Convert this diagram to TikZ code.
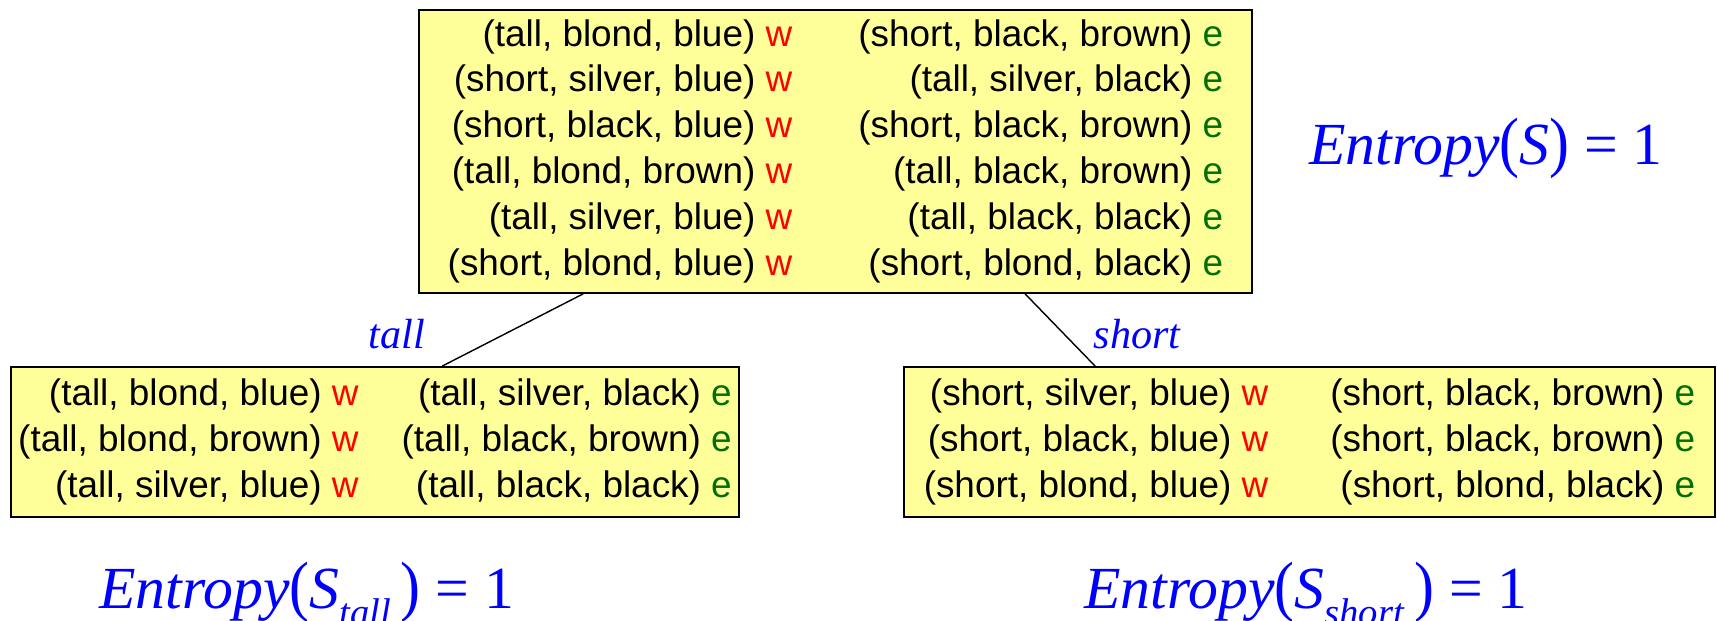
\documentclass[tikz,border=0pt]{standalone}
\usepackage{fontspec}
\setmainfont{Liberation Sans}
\newfontfamily\serif{Liberation Serif}
\usepackage{xcolor}
\usepackage{graphicx}
\usetikzlibrary{positioning}

\definecolor{boxyellow}{RGB}{255,255,153}
\definecolor{wred}{RGB}{255,0,0}
\definecolor{egreen}{RGB}{0,110,0}
\newcommand{\wlab}{\textcolor{wred}{w}}
\newcommand{\elab}{\textcolor{egreen}{e}}
\newcommand{\subent}[1]{\raisebox{-0.34cm}{\fontsize{22}{22}\selectfont\textit{#1}}\,}
\newcommand{\lpar}{\scalebox{1}[1.12]{(}}
\newcommand{\rpar}{\scalebox{1}[1.12]{)}}

\begin{document}
\begin{tikzpicture}[x=0.02cm,y=-0.02cm,
  box/.style={draw,line width=1pt,fill=boxyellow,inner sep=0pt,font=\fontsize{21}{26.1}\selectfont},
  branch/.style={text=blue,font=\serif\itshape\fontsize{24}{24}\selectfont},
  ent/.style={text=blue,anchor=base west,inner sep=0pt,font=\serif\fontsize{34}{34}\selectfont}]
\useasboundingbox (0,0) rectangle (1717,620);

% the whole set S
\node[box,minimum width=16.66cm,minimum height=5.66cm] (root) at (835.5,151.5) {%
\begin{tabular}{@{}r@{\hspace{1.32cm}}r@{}}
(tall, blond, blue) \wlab & (short, black, brown) \elab\\
(short, silver, blue) \wlab & (tall, silver, black) \elab\\
(short, black, blue) \wlab & (short, black, brown) \elab\\
(tall, blond, brown) \wlab & (tall, black, brown) \elab\\
(tall, silver, blue) \wlab & (tall, black, black) \elab\\
(short, blond, blue) \wlab & (short, blond, black) \elab
\end{tabular}};

% split on height
\node[box,minimum width=14.56cm,minimum height=3cm] (tall) at (375,442) {%
\begin{tabular}{@{}r@{\hspace{0.86cm}}r@{}}
(tall, blond, blue) \wlab & (tall, silver, black) \elab\\
(tall, blond, brown) \wlab & (tall, black, brown) \elab\\
(tall, silver, blue) \wlab & (tall, black, black) \elab
\end{tabular}};
\node[box,minimum width=16.22cm,minimum height=3cm] (short) at (1309.5,442) {%
\begin{tabular}{@{}r@{\hspace{1.24cm}}r@{}}
(short, silver, blue) \wlab & (short, black, brown) \elab\\
(short, black, blue) \wlab & (short, black, brown) \elab\\
(short, blond, blue) \wlab & (short, blond, black) \elab
\end{tabular}};

\draw[line width=0.8pt] ([xshift=3.3cm]root.south west) -- ([xshift=8.64cm]tall.north west);
\draw[line width=0.8pt] ([xshift=12.14cm]root.south west) -- ([xshift=3.84cm]short.north west);
\node[branch] (lbltall) at (397,334) {tall};
\node[branch] (lblshort) at (1137,334) {short};

% entropies
\node[ent] (entS) at (1309,164) {\textit{Entropy}\lpar\textit{S}\rpar\ = 1};
\node[ent] (enttall) at (99,608) {\textit{Entropy}\lpar\textit{S}\subent{tall}\rpar\ = 1};
\node[ent] (entshort) at (1084,608) {\textit{Entropy}\lpar\textit{S}\subent{short}\rpar\ = 1};
\end{tikzpicture}
\end{document}
